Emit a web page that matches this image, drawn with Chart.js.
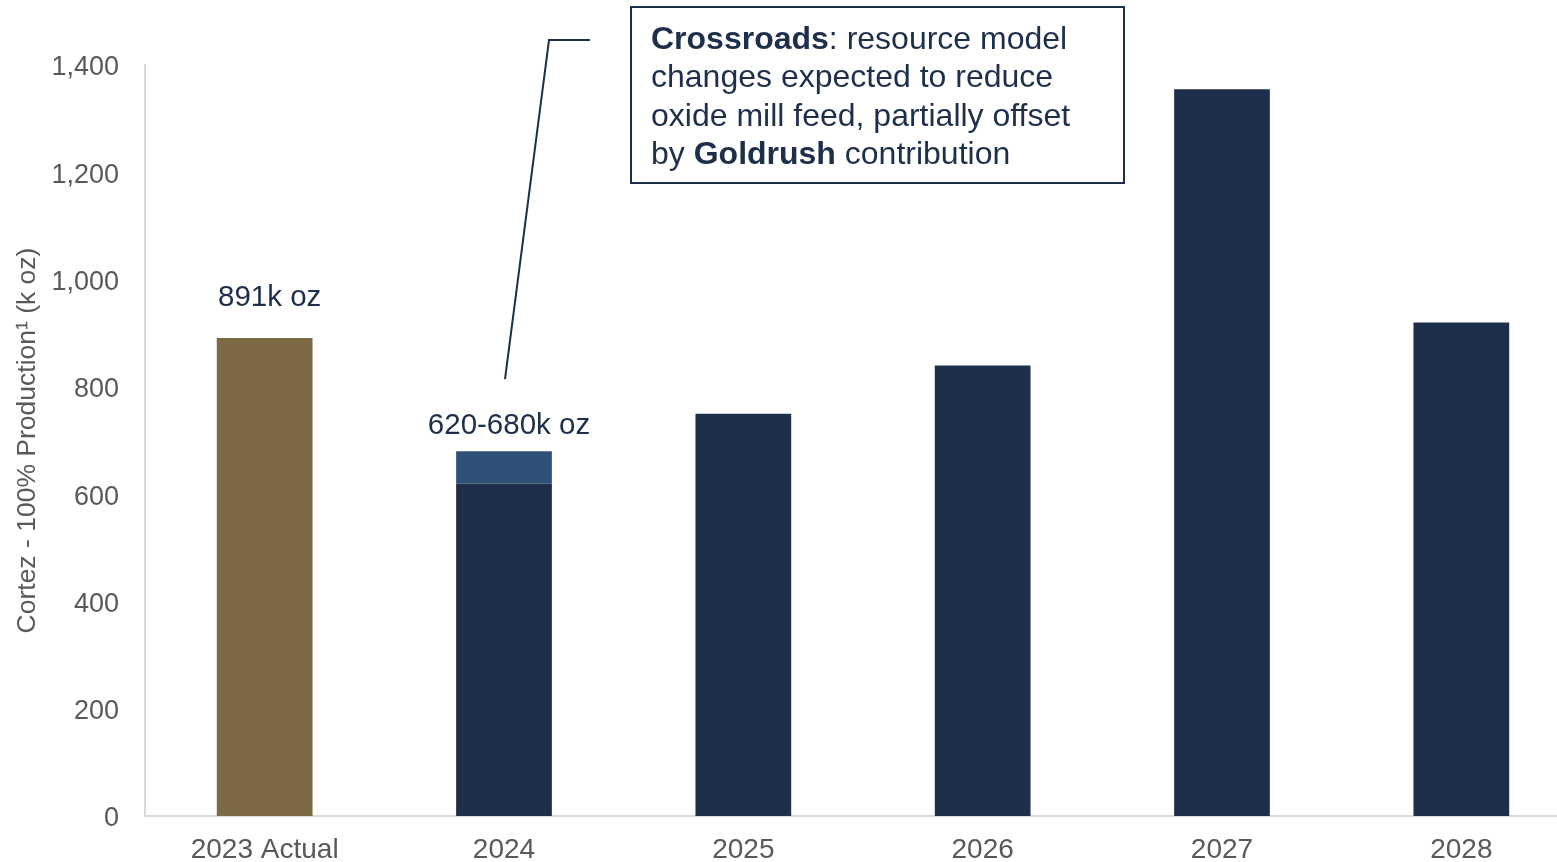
<!DOCTYPE html>
<html>
<head>
<meta charset="utf-8">
<title>Cortez production outlook</title>
<script src="https://cdn.jsdelivr.net/npm/chart.js@4.4.1/dist/chart.umd.min.js"></script>
<style>
  html, body { margin: 0; padding: 0; background: #ffffff; overflow: hidden; }
  #wrap { position: relative; width: 1600px; height: 862px; }
</style>
</head>
<body>
<div id="wrap"><canvas id="chart"></canvas></div>
<script>
// Categories and production values (k oz, 100% basis)
const categories = ['2023 Actual', '2024', '2025', '2026', '2027', '2028'];
const actual     = [891, null, null, null, null, null];
const outlook    = [null, 620, 750, 840, 1355, 920];
// 2024 guidance range
const rangeLow   = [null, 620, null, null, null, null];
const rangeHigh  = [null, 680, null, null, null, null];
const yTicks     = [0, 200, 400, 600, 800, 1000, 1200, 1400];

const GOLD = '#7B6A44';
const NAVY = '#1D2F4A';
const STEEL = '#2F5178';
const TEXT_NAVY = '#1E2F4B';
const GREY = '#595959';
const FONT = '"Liberation Sans", Arial, sans-serif';

const rangeSpan = rangeHigh.map((h, i) => (h == null || rangeLow[i] == null) ? null : h - rangeLow[i]);

// Value callouts above the 2023 and 2024 bars
const valueLabels = {
  id: 'valueLabels',
  afterDatasetsDraw(chart) {
    const { ctx, scales: { x, y } } = chart;
    ctx.save();
    ctx.font = '29.5px ' + FONT;
    ctx.fillStyle = TEXT_NAVY;
    ctx.textAlign = 'center';
    ctx.textBaseline = 'alphabetic';
    ctx.fillText(actual[0] + 'k oz', x.getPixelForValue(0) + 5, y.getPixelForValue(actual[0]) - 32);
    ctx.fillText(rangeLow[1] + '-' + rangeHigh[1] + 'k oz', x.getPixelForValue(1) + 5, y.getPixelForValue(rangeHigh[1]) - 17);
    ctx.restore();
  }
};

// Commentary box with leader line to the 2024 bar
const commentary = {
  id: 'commentary',
  afterDraw(chart) {
    const { ctx, scales: { x, y } } = chart;
    const bx = 631, by = 7, bw = 493, bh = 176;
    ctx.save();
    ctx.strokeStyle = NAVY;
    ctx.lineWidth = 2;
    ctx.strokeRect(bx, by, bw, bh);

    // leader line
    const tipX = x.getPixelForValue(1) + 1;
    const tipY = y.getPixelForValue(rangeHigh[1]) - 72;
    ctx.lineWidth = 2;
    ctx.beginPath();
    ctx.moveTo(590, 40);
    ctx.lineTo(549, 40);
    ctx.lineTo(tipX, tipY);
    ctx.stroke();

    const lines = [
      [['Crossroads', true], [': resource model', false]],
      [['changes expected to reduce', false]],
      [['oxide mill feed, partially offset', false]],
      [['by ', false], ['Goldrush', true], [' contribution', false]]
    ];
    ctx.fillStyle = TEXT_NAVY;
    ctx.textAlign = 'left';
    ctx.textBaseline = 'alphabetic';
    let base = 49;
    lines.forEach(parts => {
      let cx = bx + 20;
      parts.forEach(([txt, bold]) => {
        ctx.font = (bold ? 'bold ' : '') + '32px ' + FONT;
        ctx.fillText(txt, cx, base);
        cx += ctx.measureText(txt).width;
      });
      base += 38.3;
    });
    ctx.restore();
  }
};

new Chart(document.getElementById('chart'), {
  type: 'bar',
  data: {
    labels: categories,
    datasets: [
      { label: 'Actual', data: actual, backgroundColor: GOLD, stack: 's' },
      { label: 'Outlook', data: outlook, backgroundColor: NAVY, stack: 's' },
      { label: 'Guidance range', data: rangeSpan, backgroundColor: STEEL, stack: 's' }
    ]
  },
  options: {
    responsive: true,
    maintainAspectRatio: false,
    animation: false,
    layout: { padding: { top: 65, right: 19, left: 0, bottom: 0 } },
    datasets: { bar: { barPercentage: 0.4, categoryPercentage: 1.0, borderWidth: 0 } },
    plugins: { legend: { display: false }, tooltip: { enabled: false } },
    scales: {
      x: {
        stacked: true,
        grid: { display: false },
        border: { display: true, color: '#D9D9D9', width: 2 },
        ticks: { color: GREY, font: { family: FONT, size: 28 }, padding: 9, maxRotation: 0 },
        afterFit(scale) { scale.height = 46; }
      },
      y: {
        stacked: true,
        min: 0,
        max: 1400,
        grid: { display: false },
        border: { display: true, color: '#D9D9D9', width: 2 },
        afterBuildTicks(scale) { scale.ticks = yTicks.map(v => ({ value: v })); },
        ticks: { color: GREY, font: { family: FONT, size: 27 }, padding: 18, labelOffset: 3 },
        title: {
          display: true,
          text: 'Cortez - 100% Production¹ (k oz)',
          color: GREY,
          font: { family: FONT, size: 26.5 },
          padding: { top: 12, bottom: 0 }
        },
        afterFit(scale) { scale.width = 145; }
      }
    }
  },
  plugins: [valueLabels, commentary]
});
</script>
</body>
</html>
